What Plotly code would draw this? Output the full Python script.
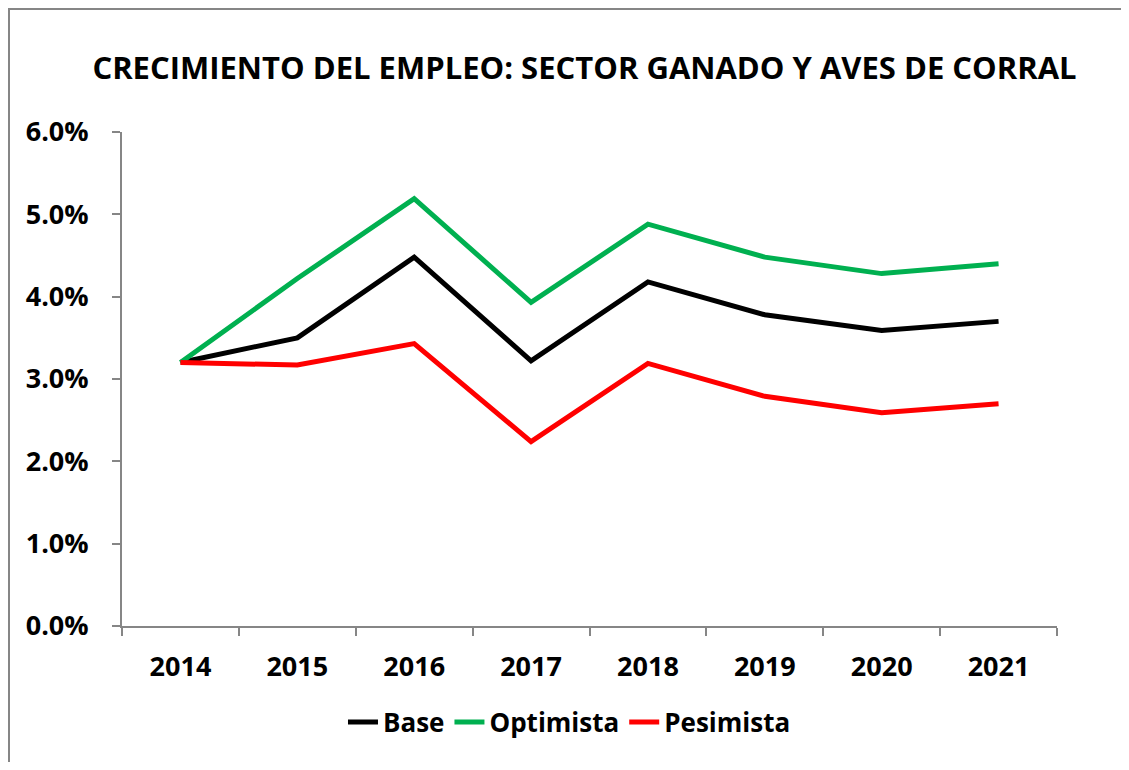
import plotly.graph_objects as go

years = ["2014", "2015", "2016", "2017", "2018", "2019", "2020", "2021"]
base = [3.20, 3.50, 4.48, 3.22, 4.18, 3.78, 3.59, 3.70]
optimista = [3.20, 4.22, 5.19, 3.93, 4.88, 4.48, 4.28, 4.40]
pesimista = [3.20, 3.17, 3.43, 2.24, 3.19, 2.79, 2.59, 2.70]
y_ticks = [0, 1, 2, 3, 4, 5, 6]
y_tick_labels = ["0.0%", "1.0%", "2.0%", "3.0%", "4.0%", "5.0%", "6.0%"]

FONT = "Open Sans"
AXIS = "#868686"

fig = go.Figure()
for name, vals, col in [("Base", base, "#000000"),
                        ("Optimista", optimista, "#00B050"),
                        ("Pesimista", pesimista, "#FF0000")]:
    fig.add_trace(go.Scatter(x=years, y=vals, name=name, mode="lines",
                             line=dict(color=col, width=5)))

# page body has an 8px margin; figure coordinates below are page - 8
W, H = 1113, 754
L, T = 114, 124
PW, PH = 935, 494
R = W - L - PW
B = H - T - PH

fig.update_layout(
    width=W, height=H,
    margin=dict(l=L, r=R, t=T, b=B),
    paper_bgcolor="white", plot_bgcolor="white",
    font=dict(family=FONT, color="#000000"),
    title=dict(text="<b>CRECIMIENTO DEL EMPLEO: SECTOR GANADO Y AVES DE CORRAL</b>",
               x=576.5 / W, xanchor="center", y=1 - 60 / H, yanchor="middle",
               font=dict(family=FONT, size=31, color="#000000")),
    showlegend=True,
    legend=dict(orientation="h", x=0.4786, xanchor="center",
                y=(T + PH - 714) / PH, yanchor="middle",
                font=dict(family=FONT, size=26, color="#000000", weight="bold"),
                tracegroupgap=0),
    xaxis=dict(type="category", range=[-0.5, 7.5], tickson="boundaries",
               showline=True, linecolor=AXIS, linewidth=2,
               ticks="outside", ticklen=8, tickcolor=AXIS, tickwidth=2,
               showgrid=False, zeroline=False, ticklabelstandoff=16,
               tickfont=dict(family=FONT, size=27, color="#000000", weight="bold")),
    yaxis=dict(range=[0, 6], tickvals=y_ticks, ticktext=y_tick_labels,
               showline=True, linecolor=AXIS, linewidth=2,
               ticks="outside", ticklen=8, tickcolor=AXIS, tickwidth=2,
               showgrid=False, zeroline=False, ticklabelstandoff=18,
               tickfont=dict(family=FONT, size=27, color="#000000", weight="bold")),
)

fig.add_shape(type="rect", xref="paper", yref="paper",
              x0=(1 - L) / PW, x1=(W + 20 - L) / PW,
              y0=-(B + 20) / PH, y1=(PH + T - 1) / PH,
              line=dict(color=AXIS, width=2), fillcolor="rgba(0,0,0,0)", layer="below")

fig.write_html("out.html")
